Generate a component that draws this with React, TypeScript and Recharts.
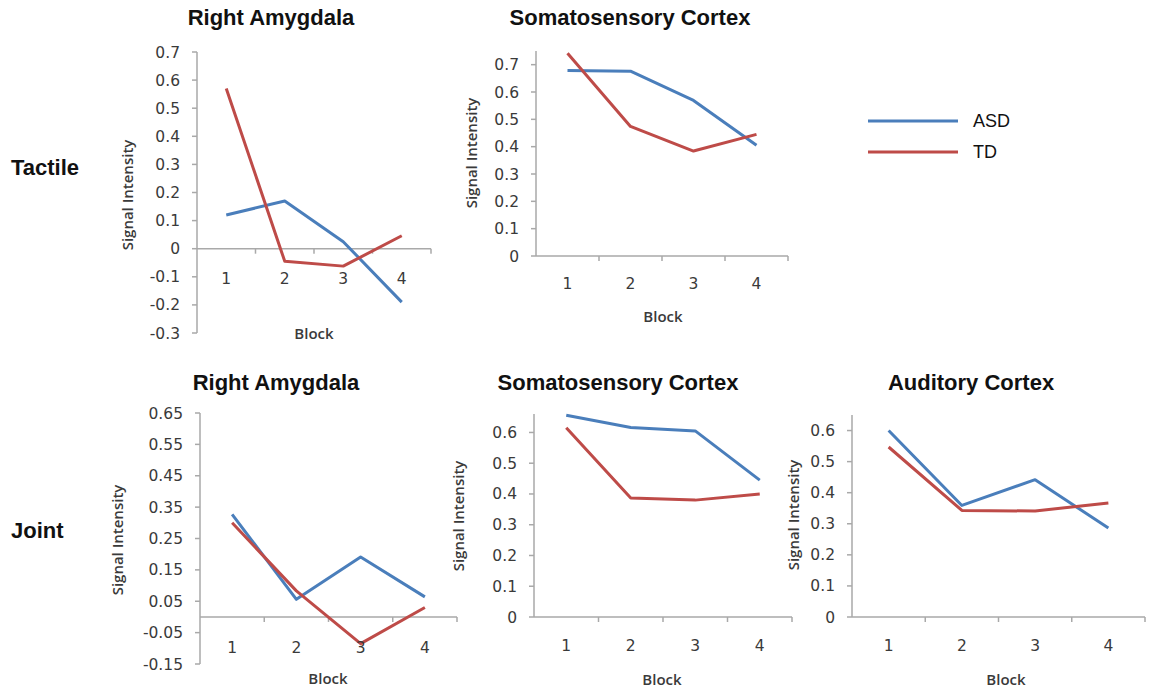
import React from 'react'
import { LineChart, Line, XAxis, YAxis, ReferenceLine } from 'recharts'

// blocks on the x axis
const BLOCKS = [1, 2, 3, 4]
const SERIES = ['ASD', 'TD']
const COLORS: Record<string, string> = { ASD: '#4A7EBB', TD: '#BE4B48' }

// Tactile
const tactileAmygdalaASD = [0.12, 0.17, 0.025, -0.19]
const tactileAmygdalaTD = [0.57, -0.045, -0.062, 0.046]
const tactileSomatoASD = [0.679, 0.676, 0.569, 0.405]
const tactileSomatoTD = [0.742, 0.474, 0.384, 0.445]

// Joint
const jointAmygdalaASD = [0.327, 0.056, 0.191, 0.064]
const jointAmygdalaTD = [0.3, 0.083, -0.085, 0.03]
const jointSomatoASD = [0.656, 0.616, 0.605, 0.445]
const jointSomatoTD = [0.615, 0.387, 0.38, 0.4]
const jointAuditoryASD = [0.6, 0.359, 0.442, 0.286]
const jointAuditoryTD = [0.547, 0.343, 0.341, 0.367]

// tick labels
const tactileAmygdalaTicks = [-0.3, -0.2, -0.1, 0, 0.1, 0.2, 0.3, 0.4, 0.5, 0.6, 0.7]
const jointAmygdalaTicks = [-0.15, -0.05, 0.05, 0.15, 0.25, 0.35, 0.45, 0.55, 0.65]
const cortexTicksTo7 = [0, 0.1, 0.2, 0.3, 0.4, 0.5, 0.6, 0.7]
const cortexTicksTo6 = [0, 0.1, 0.2, 0.3, 0.4, 0.5, 0.6]

const AXIS = '#A9A9A9'
const TEXT = '#3a3a3a'
const TICK_FONT = '"DejaVu Sans", sans-serif'
const LABEL_FONT = '"Open Sans", sans-serif'
const TITLE_FONT = '"Liberation Sans", Arial, sans-serif'

const Y_W = 70
const MT = 10
const MR = 4
const XH = 30
const MB = 10

const toRows = (asd: number[], td: number[]) =>
  BLOCKS.map((block, i) => ({ block, ASD: asd[i], TD: td[i] }))

const fmt = (digits: number) => (v: number) => (Math.abs(v) < 1e-9 ? '0' : v.toFixed(digits))

const xTick = (offset: number) => (props: any) => (
  <text
    x={props.x}
    y={props.y + offset}
    textAnchor="middle"
    dominantBaseline="central"
    fill={TEXT}
    fontSize={15.5}
    fontFamily={TICK_FONT}
  >
    {props.payload.value}
  </text>
)

// the category axis sits on y = 0, ticks between blocks
const zeroAxis = (props: any) => {
  const { x1, y1, x2 } = props
  const step = (x2 - x1) / BLOCKS.length
  return (
    <g>
      <line x1={x1} y1={y1} x2={x2} y2={y1} stroke={AXIS} strokeWidth={1.5} />
      {BLOCKS.map((b, i) => (
        <line key={b} x1={x1 + step * (i + 1)} x2={x1 + step * (i + 1)} y1={y1} y2={y1 + 5} stroke={AXIS} strokeWidth={1.5} />
      ))}
    </g>
  )
}

type Spec = {
  title: string
  asd: number[]
  td: number[]
  domain: [number, number]
  ticks: number[]
  digits: number
  plot: { left: number; top: number; right: number; bottom: number }
  labelY: number
  titleAt: [number, number]
  yLabelAt: [number, number]
  blockAt: [number, number]
}

const panels: Spec[] = [
  {
    title: 'Right Amygdala', asd: tactileAmygdalaASD, td: tactileAmygdalaTD,
    domain: [-0.3, 0.7], ticks: tactileAmygdalaTicks, digits: 1,
    plot: { left: 197, top: 52, right: 431, bottom: 333 }, labelY: 279,
    titleAt: [271, 18], yLabelAt: [127, 195], blockAt: [314, 333],
  },
  {
    title: 'Somatosensory Cortex', asd: tactileSomatoASD, td: tactileSomatoTD,
    domain: [0, 0.75], ticks: cortexTicksTo7, digits: 1,
    plot: { left: 536, top: 51, right: 788, bottom: 256 }, labelY: 284,
    titleAt: [630, 18], yLabelAt: [471, 153], blockAt: [663, 316],
  },
  {
    title: 'Right Amygdala', asd: jointAmygdalaASD, td: jointAmygdalaTD,
    domain: [-0.15, 0.65], ticks: jointAmygdalaTicks, digits: 2,
    plot: { left: 200, top: 413, right: 457, bottom: 664 }, labelY: 648,
    titleAt: [276, 383], yLabelAt: [117, 540], blockAt: [328, 678],
  },
  {
    title: 'Somatosensory Cortex', asd: jointSomatoASD, td: jointSomatoTD,
    domain: [0, 0.66], ticks: cortexTicksTo6, digits: 1,
    plot: { left: 534, top: 414, right: 792, bottom: 617 }, labelY: 646,
    titleAt: [618, 383], yLabelAt: [458, 516], blockAt: [662, 679],
  },
  {
    title: 'Auditory Cortex', asd: jointAuditoryASD, td: jointAuditoryTD,
    domain: [0, 0.65], ticks: cortexTicksTo6, digits: 1,
    plot: { left: 852, top: 415, right: 1145, bottom: 617 }, labelY: 646,
    titleAt: [971, 383], yLabelAt: [793, 515], blockAt: [1006, 679],
  },
]

const centered = (x: number, y: number): React.CSSProperties => ({
  position: 'absolute',
  left: x,
  top: y,
  transform: 'translate(-50%, -50%)',
  whiteSpace: 'nowrap',
  lineHeight: 1,
})

function Panel({ s }: { s: Spec }) {
  const { plot } = s
  const w = Y_W + (plot.right - plot.left) + MR
  const h = MT + (plot.bottom - plot.top) + XH + MB
  return (
    <>
      <div style={{ ...centered(s.titleAt[0], s.titleAt[1]), fontFamily: TITLE_FONT, fontWeight: 700, fontSize: 22, color: '#111' }}>
        {s.title}
      </div>
      <div
        style={{
          ...centered(s.yLabelAt[0], s.yLabelAt[1]),
          transform: 'translate(-50%, -50%) rotate(-90deg)',
          fontFamily: LABEL_FONT, fontWeight: 600, fontSize: 15, color: TEXT,
        }}
      >
        Signal Intensity
      </div>
      <div style={{ ...centered(s.blockAt[0], s.blockAt[1]), fontFamily: LABEL_FONT, fontWeight: 600, fontSize: 15, color: TEXT }}>
        Block
      </div>
      <div style={{ position: 'absolute', left: plot.left - Y_W, top: plot.top - MT }}>
        <LineChart width={w} height={h} data={toRows(s.asd, s.td)} margin={{ top: MT, right: MR, bottom: MB, left: 0 }}>
          <XAxis
            type="number"
            dataKey="block"
            domain={[0.5, 4.5]}
            ticks={BLOCKS}
            interval={0}
            height={XH}
            axisLine={false}
            tickLine={false}
            tickSize={0}
            tickMargin={0}
            tick={xTick(s.labelY - plot.bottom)}
          />
          <YAxis
            type="number"
            domain={s.domain}
            ticks={s.ticks}
            interval={0}
            width={Y_W}
            tickFormatter={fmt(s.digits)}
            axisLine={{ stroke: AXIS, strokeWidth: 1.5 }}
            tickLine={{ stroke: AXIS, strokeWidth: 1.5 }}
            tickSize={5}
            tickMargin={12}
            tick={{ fill: TEXT, fontSize: 15.5, fontFamily: TICK_FONT }}
          />
          <ReferenceLine y={0} shape={zeroAxis} />
          {SERIES.map((name) => (
            <Line
              key={name}
              type="linear"
              dataKey={name}
              stroke={COLORS[name]}
              strokeWidth={3}
              strokeLinejoin="round"
              dot={false}
              activeDot={false}
              isAnimationActive={false}
            />
          ))}
        </LineChart>
      </div>
    </>
  )
}

export default function App() {
  return (
    <div style={{ position: 'absolute', left: 0, top: 0, width: 1154, height: 690, background: '#fff', overflow: 'hidden' }}>
      <div style={{ position: 'absolute', left: 11, top: 168, transform: 'translateY(-50%)', fontFamily: TITLE_FONT, fontWeight: 700, fontSize: 22, lineHeight: 1, color: '#111' }}>
        Tactile
      </div>
      <div style={{ position: 'absolute', left: 11, top: 531, transform: 'translateY(-50%)', fontFamily: TITLE_FONT, fontWeight: 700, fontSize: 22, lineHeight: 1, color: '#111' }}>
        Joint
      </div>
      {panels.map((s, i) => (
        <Panel key={i} s={s} />
      ))}
      {SERIES.map((name, i) => (
        <div key={name} style={{ position: 'absolute', left: 866, top: 121 + i * 31, transform: 'translateY(-50%)', display: 'flex', alignItems: 'center' }}>
          <svg width={94} height={6}>
            <line x1={2} y1={3} x2={92} y2={3} stroke={COLORS[name]} strokeWidth={3} />
          </svg>
          <span style={{ marginLeft: 13, fontFamily: TITLE_FONT, fontSize: 18, lineHeight: 1, color: '#111' }}>{name}</span>
        </div>
      ))}
    </div>
  )
}
